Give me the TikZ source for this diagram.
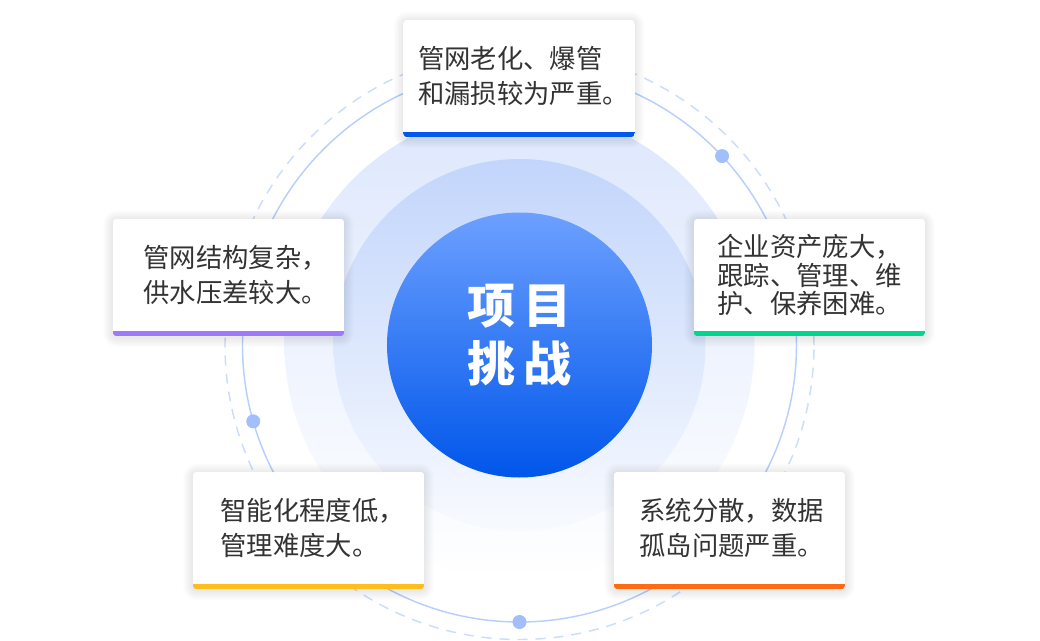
\documentclass[tikz,border=0pt]{standalone}
\usepackage{fontspec}
\setmainfont{Noto Sans CJK SC}
\usepackage{tikz}
\definecolor{ink}{HTML}{333333}
\definecolor{coreTop}{HTML}{6CA0FF}
\definecolor{coreBot}{HTML}{0056EA}
\definecolor{haloIn}{HTML}{C2D5FB}
\definecolor{haloOut}{HTML}{DDE7FD}
\definecolor{ring}{HTML}{B8CFFB}
\definecolor{ringDash}{HTML}{CCDCFD}
\definecolor{dot}{HTML}{A2BFFB}
\definecolor{cBlue}{HTML}{0057EB}
\definecolor{cGreen}{HTML}{00D68F}
\definecolor{cPurple}{HTML}{9D7AF7}
\definecolor{cYellow}{HTML}{FFBE1E}
\definecolor{cOrange}{HTML}{FF6B14}
\pgfdeclarelayer{bg}
\pgfsetlayers{bg,main}

\begin{document}
\begin{tikzpicture}[x=0.75pt, y=0.75pt,
   core/.style={circle, minimum size=198.75pt, top color=coreTop, bottom color=coreBot},
   title/.style={text=white, align=center, font=\fontsize{36pt}{44pt}\selectfont\bfseries},
   card/.style={minimum height=84pt, align=left, text=ink, font=\fontsize{19.75pt}{26.25pt}\selectfont},
   tight/.style={font=\fontsize{19.75pt}{21.4pt}\selectfont}]
  \useasboundingbox (-519.5,-295) rectangle (520.5,345);
  % halos and rings
  \begin{pgfonlayer}{bg}
    \shade[top color=haloOut, bottom color=white] (0,0) circle (235);
    \shade[top color=haloIn, bottom color=haloIn!12] (0,0) circle (186);
    \draw[ring, line width=1.1pt] (0,0) circle (277);
    \draw[ringDash, line width=1.1pt, dash pattern=on 7.5pt off 6pt] (0,0) circle (294.5);
    \foreach \a in {43,196,270} \fill[dot] (\a:277) circle (7);
  \end{pgfonlayer}
  \node[core] (core) at (0,0) {};
  \node[title] (title) at ([yshift=7.5pt]core.center) {项\kern6pt目\\挑\kern6pt战};
  % challenge cards (width 173.25pt = text width + 2 inner xsep)
  \node[card, inner xsep=10.9pt, text width=151.45pt] (aging) at (-0.5,269) {管网老化、爆管\\和漏损较为严重。};
  \node[card, tight, inner xsep=17.6pt, text width=138.05pt] (assets) at (290,70) {企业资产庞大，\\跟踪、管理、维\\护、保养困难。};
  \node[card, inner xsep=22.9pt, text width=127.45pt] (network) at (-291,70) {管网结构复杂，\\供水压差较大。};
  \node[card, inner xsep=20.6pt, text width=132.05pt] (smart) at (-211,-183) {智能化程度低，\\管理难度大。};
  \node[card, inner xsep=19.1pt, text width=135.05pt] (silo) at (210,-183) {系统分散，数据\\孤岛问题严重。};
  \foreach \n/\c in {aging/cBlue, assets/cGreen, network/cPurple, smart/cYellow, silo/cOrange} {
    \begin{pgfonlayer}{bg}
      \foreach \s in {1,...,7}
        \fill[black, opacity=0.01, rounded corners=3pt+\s pt] ([shift={(-\s pt,-\s pt-4.75pt)}]\n.south west) rectangle ([shift={(\s pt,\s pt-1pt)}]\n.north east);
      \begin{scope}
        \clip[rounded corners=3pt] ([yshift=-3.75pt]\n.south west) rectangle (\n.north east);
        \fill[white] (\n.south west) rectangle (\n.north east);
        \fill[\c] ([yshift=-3.75pt]\n.south west) rectangle (\n.south east);
      \end{scope}
    \end{pgfonlayer}}
\end{tikzpicture}
\end{document}
